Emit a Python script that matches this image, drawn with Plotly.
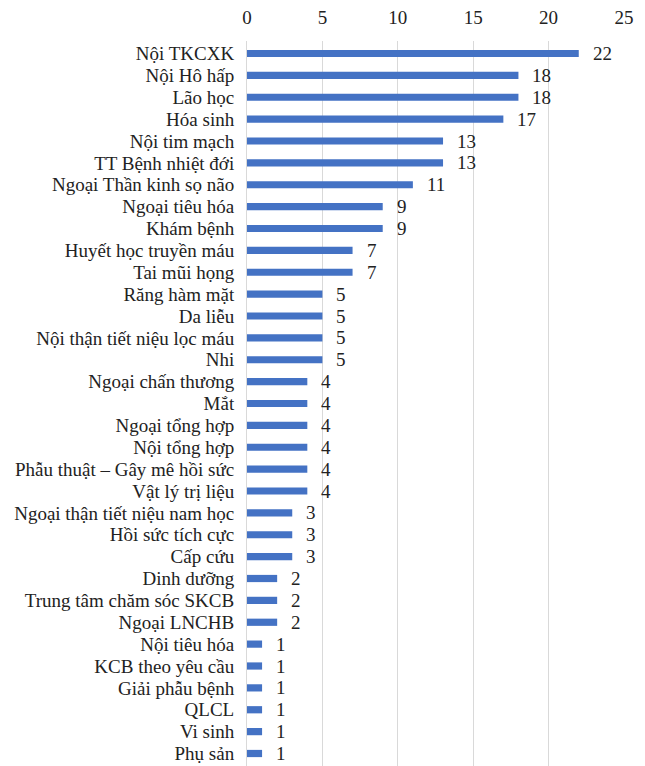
import plotly.graph_objects as go

categories = [
    "Nội TKCXK", "Nội Hô hấp", "Lão học", "Hóa sinh", "Nội tim mạch",
    "TT Bệnh nhiệt đới", "Ngoại Thần kinh sọ não", "Ngoại tiêu hóa", "Khám bệnh",
    "Huyết học truyền máu", "Tai mũi họng", "Răng hàm mặt", "Da liễu",
    "Nội thận tiết niệu lọc máu", "Nhi", "Ngoại chấn thương", "Mắt",
    "Ngoại tổng hợp", "Nội tổng hợp", "Phẫu thuật – Gây mê hồi sức",
    "Vật lý trị liệu", "Ngoại thận tiết niệu nam học", "Hồi sức tích cực",
    "Cấp cứu", "Dinh dưỡng", "Trung tâm chăm sóc SKCB", "Ngoại LNCHB",
    "Nội tiêu hóa", "KCB theo yêu cầu", "Giải phẫu bệnh", "QLCL", "Vi sinh",
    "Phụ sản",
]
values = [22, 18, 18, 17, 13, 13, 11, 9, 9, 7, 7, 5, 5, 5, 5, 4, 4, 4, 4, 4, 4,
          3, 3, 3, 2, 2, 2, 1, 1, 1, 1, 1, 1]
x_ticks = [0, 5, 10, 15, 20, 25]

FONT = "Liberation Serif, Times New Roman, serif"
FS = 19

fig = go.Figure()
fig.add_trace(go.Bar(
    y=categories, x=values, orientation="h",
    marker=dict(color="#4472C4", line=dict(width=0)),
    width=0.33,
    hoverinfo="x+y",
))

for c, v in zip(categories, values):
    fig.add_annotation(x=v, y=c, text=str(v), showarrow=False,
                       xanchor="left", xshift=12, yshift=0,
                       font=dict(family=FONT, size=FS, color="#222222"))

fig.update_layout(
    width=637, height=758,
    margin=dict(l=239, r=21, t=33, b=0),
    paper_bgcolor="white", plot_bgcolor="white",
    showlegend=False,
    font=dict(family=FONT, size=FS, color="#222222"),
    xaxis=dict(
        side="top", range=[0, 25], tickvals=x_ticks,
        showgrid=True, gridcolor="#D9D9D9", gridwidth=1,
        zeroline=False, showline=False, ticks="",
        tickfont=dict(family=FONT, size=FS, color="#222222"),
        ticklabelstandoff=12,
    ),
    yaxis=dict(
        autorange="reversed", showgrid=False, zeroline=False,
        showline=True, linecolor="#D9D9D9", linewidth=1,
        ticks="", ticklabelstandoff=8,
        tickmode="array", tickvals=categories, ticktext=categories,
        tickfont=dict(family=FONT, size=FS, color="#222222"),
    ),
)

fig.write_html("out.html")
